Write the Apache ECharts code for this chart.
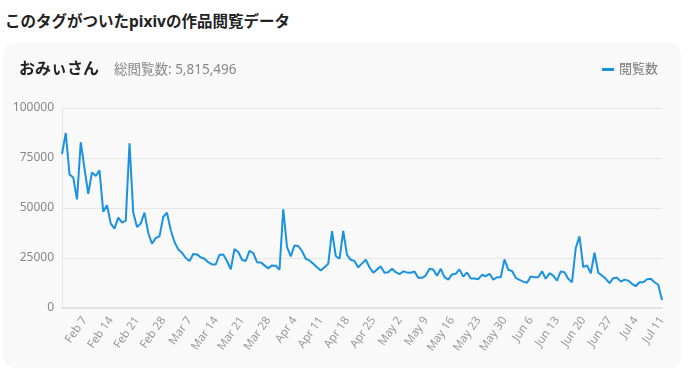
<!DOCTYPE html>
<html>
<head>
<meta charset="utf-8">
<script src="https://cdn.jsdelivr.net/npm/echarts@6/dist/echarts.min.js"></script>
<style>
  html, body {
    margin: 0;
    padding: 0;
    background: #fff;
    font-family: "Noto Sans", "Noto Sans CJK JP", sans-serif;
  }
  .page-title {
    position: absolute;
    left: 5px;
    top: 9px;
    font-size: 15.5px;
    font-weight: bold;
    color: #222;
  }
  .card {
    position: absolute;
    left: 3px;
    top: 43px;
    width: 678px;
    height: 325px;
    background: #f9f9f9;
    border-radius: 10px;
  }
  .card-head {
    position: absolute;
    left: 16px;
    top: 12px;
    white-space: nowrap;
  }
  .card-head .name {
    font-size: 16px;
    font-weight: bold;
    color: #222;
  }
  .card-head .total {
    font-size: 13.5px;
    color: #888;
    margin-left: 15px;
  }
  #chart {
    position: absolute;
    left: 0;
    top: 0;
    width: 678px;
    height: 325px;
  }
</style>
</head>
<body>
<div class="page-title">このタグがついたpixivの作品閲覧データ</div>
<div class="card">
  <div id="chart"></div>
  <div class="card-head"><span class="name">おみぃさん</span><span class="total">総閲覧数: 5,815,496</span></div>
</div>
<script>
// daily views, Feb 1 - Jul 11
const START_DATE = [2021, 2, 1]
const DAY_COUNT = 161
const MONTHS = ['Jan', 'Feb', 'Mar', 'Apr', 'May', 'Jun', 'Jul', 'Aug', 'Sep', 'Oct', 'Nov', 'Dec']

const views = [
  77000, 87500, 66800, 65200, 54300, 82900, 69800, 57100, 67800, 66000,
  68800, 48100, 51400, 42200, 39700, 45200, 42700, 43700, 82400, 47700,
  40500, 42200, 47700, 37500, 32200, 35000, 35800, 45600, 47600, 38900,
  33000, 29300, 27600, 25000, 23500, 27000, 26800, 25300, 24600, 22900,
  21800, 21800, 26600, 26800, 23500, 19300, 29500, 28000, 24100, 23500,
  28600, 27500, 22900, 22800, 21300, 19800, 21300, 21100, 19100, 49400,
  30500, 25800, 31300, 31000, 28500, 24600, 23800, 22100, 20400, 18800,
  20400, 22100, 38400, 26000, 24600, 38500, 26600, 24100, 23500, 20300,
  22300, 24100, 20400, 17600, 19300, 20800, 17600, 17900, 19600, 17900,
  16900, 18300, 17800, 17600, 18300, 15100, 15100, 16200, 19600, 19300,
  16100, 19600, 15400, 14200, 16800, 17100, 19300, 15700, 17800, 14700,
  14700, 14400, 16600, 15900, 17100, 14100, 15400, 15400, 24300, 19100,
  18500, 15100, 14100, 13200, 12600, 15700, 15400, 15400, 18400, 14600,
  17400, 16200, 13700, 18300, 17900, 14600, 12900, 30000, 35800, 20400,
  21300, 17400, 27600, 17600, 16200, 14600, 12400, 14900, 15200, 13200,
  14200, 13700, 12100, 10900, 12900, 12900, 14400, 14600, 12900, 11600,
  4000
]

const dates = []
for (let i = 0; i < DAY_COUNT; i++) {
  const d = new Date(START_DATE[0], START_DATE[1] - 1, START_DATE[2] + i)
  dates.push(MONTHS[d.getMonth()] + ' ' + d.getDate())
}

const chart = echarts.init(document.getElementById('chart'))

const option = {
  animation: false,
  textStyle: {
    fontFamily: '"Noto Sans", "Noto Sans CJK JP", sans-serif'
  },
  grid: {
    left: 59,
    right: 19,
    top: 65,
    bottom: 60
  },
  legend: {
    right: 18,
    top: 15,
    icon: 'rect',
    itemWidth: 12,
    itemHeight: 3,
    itemGap: 6,
    textStyle: {
      color: '#777',
      fontSize: 13
    },
    data: ['閲覧数']
  },
  xAxis: {
    type: 'category',
    boundaryGap: false,
    data: dates,
    axisTick: { show: false },
    axisLine: {
      lineStyle: { color: '#e2e2e2', width: 2 }
    },
    axisLabel: {
      interval: (index) => (index - 6) % 7 === 0,
      rotate: 55,
      color: '#999',
      fontSize: 11.5,
      margin: 10
    }
  },
  yAxis: {
    type: 'value',
    min: 0,
    max: 100000,
    interval: 25000,
    axisLine: {
      show: true,
      lineStyle: { color: '#e6e6e6' }
    },
    axisTick: { show: false },
    splitLine: {
      lineStyle: { color: '#e6e6e6' }
    },
    axisLabel: {
      color: '#888',
      fontSize: 12,
      margin: 8,
      formatter: (v) => String(v)
    }
  },
  series: [{
    name: '閲覧数',
    type: 'line',
    data: views,
    showSymbol: false,
    symbol: 'none',
    lineStyle: {
      width: 2,
      color: '#1a92e2'
    },
    itemStyle: {
      color: '#1a92e2'
    }
  }]
}

chart.setOption(option)
</script>
</body>
</html>
